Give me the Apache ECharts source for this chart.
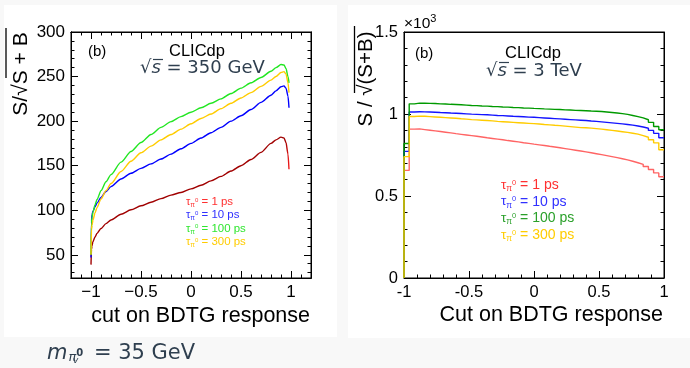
<!DOCTYPE html>
<html><head><meta charset="utf-8">
<script src="https://cdn.jsdelivr.net/npm/echarts@6/dist/echarts.min.js"></script>
<style>html,body{margin:0;padding:0;background:#f8f8f8}#c{width:690px;height:368px}</style>
</head><body><div id="c"></div>
<script>
// ---------- Left panel (sqrt(s) = 350 GeV): smooth curves ----------
const cutL = [-1, -0.995, -0.99, -0.98, -0.96, -0.94, -0.9, -0.85, -0.8, -0.7, -0.6, -0.5, -0.4, -0.3, -0.2, -0.1, 0, 0.1, 0.2, 0.3, 0.4, 0.5, 0.6, 0.7, 0.8, 0.85, 0.9, 0.93, 0.95, 0.97, 0.98];
const tau1L   = [39, 56, 60, 65, 70, 74, 79.5, 85, 89, 95.5, 100.5, 105, 109, 113, 117, 120, 124, 128, 133, 138, 144, 150, 157, 165, 175, 179, 182, 181, 176, 163, 146];
const tau10L  = [47, 88, 95, 99, 104, 108, 114.5, 121, 126.5, 135, 141.5, 147, 152, 157.5, 163, 169, 175, 181, 187, 193, 200, 206, 213, 221, 229, 234, 238.5, 239.5, 237, 228, 215];
const tau100L = [50, 86, 92, 98, 106, 112, 122, 132, 140, 154, 166, 176, 185, 193, 199.5, 205, 210, 215, 220, 225, 231, 237, 243, 249, 256, 260, 263.5, 263, 259, 250, 243];
const tau300L = [50, 79, 83, 89, 97, 103, 112.5, 122, 130, 143.5, 155, 164.5, 172, 179, 185, 191, 197, 203, 208, 214, 220, 226, 232, 239, 246, 250, 254.5, 255.5, 253, 243, 232];
const leftXMajor = [-1, -0.5, 0, 0.5, 1];
const leftXMinor = [-1.1, -0.9, -0.8, -0.7, -0.6, -0.4, -0.3, -0.2, -0.1, 0.1, 0.2, 0.3, 0.4, 0.6, 0.7, 0.8, 0.9, 1.1];
const leftYMajor = [50, 100, 150, 200, 250, 300];
const leftYMinor = [30, 40, 60, 70, 80, 90, 110, 120, 130, 140, 160, 170, 180, 190, 210, 220, 230, 240, 260, 270, 280, 290];

// ---------- Right panel (sqrt(s) = 3 TeV): histograms, 50 bins, units of 10^3 ----------
const binEdges = [-1, -0.96, -0.92, -0.88, -0.84, -0.8, -0.76, -0.72, -0.68, -0.64, -0.6, -0.56, -0.52, -0.48, -0.44, -0.4, -0.36, -0.32, -0.28, -0.24, -0.2, -0.16, -0.12, -0.08, -0.04, 0, 0.04, 0.08, 0.12, 0.16, 0.2, 0.24, 0.28, 0.32, 0.36, 0.4, 0.44, 0.48, 0.52, 0.56, 0.6, 0.64, 0.68, 0.72, 0.76, 0.8, 0.84, 0.88, 0.92, 0.96, 1];
const tau1R = [0.656, 0.908, 0.909, 0.905, 0.901, 0.897, 0.893, 0.889, 0.885, 0.880, 0.876, 0.872, 0.868, 0.864, 0.860, 0.855, 0.851, 0.847, 0.843, 0.838, 0.834, 0.830, 0.825, 0.821, 0.816, 0.812, 0.808, 0.803, 0.799, 0.794, 0.789, 0.784, 0.779, 0.774, 0.769, 0.764, 0.758, 0.752, 0.746, 0.740, 0.734, 0.727, 0.720, 0.712, 0.703, 0.693, 0.680, 0.662, 0.641, 0.617];
const tau10R = [0.772, 1.012, 1.014, 1.013, 1.012, 1.011, 1.009, 1.008, 1.006, 1.005, 1.003, 1.001, 0.999, 0.998, 0.996, 0.995, 0.993, 0.991, 0.990, 0.988, 0.986, 0.985, 0.983, 0.981, 0.980, 0.978, 0.976, 0.974, 0.972, 0.970, 0.968, 0.966, 0.964, 0.962, 0.960, 0.957, 0.955, 0.952, 0.949, 0.946, 0.943, 0.940, 0.936, 0.932, 0.927, 0.921, 0.913, 0.900, 0.882, 0.855];
const tau100R = [0.820, 1.062, 1.066, 1.066, 1.065, 1.064, 1.062, 1.061, 1.059, 1.058, 1.056, 1.054, 1.052, 1.051, 1.049, 1.048, 1.046, 1.045, 1.043, 1.042, 1.040, 1.039, 1.037, 1.036, 1.034, 1.033, 1.031, 1.030, 1.028, 1.027, 1.025, 1.024, 1.022, 1.021, 1.020, 1.018, 1.017, 1.015, 1.012, 1.009, 1.006, 1.002, 0.998, 0.991, 0.984, 0.976, 0.965, 0.949, 0.924, 0.904];
const tau300R = [0.740, 0.985, 0.987, 0.986, 0.984, 0.982, 0.980, 0.978, 0.976, 0.974, 0.971, 0.969, 0.966, 0.964, 0.962, 0.960, 0.958, 0.955, 0.953, 0.951, 0.949, 0.947, 0.945, 0.943, 0.941, 0.939, 0.936, 0.934, 0.931, 0.929, 0.926, 0.923, 0.920, 0.917, 0.916, 0.914, 0.911, 0.908, 0.904, 0.900, 0.896, 0.892, 0.888, 0.883, 0.877, 0.868, 0.858, 0.843, 0.824, 0.782];

const legendLabels = ['1 ps', '10 ps', '100 ps', '300 ps'];
const leftColors = ['#a00000', '#0000ff', '#22e622', '#ffcc00'];
const rightColors = ['#ff6464', '#1414ff', '#009a00', '#ffcc00'];
const leftLegendColors = ['#ff3030', '#3030ff', '#30e630', '#ffcc00'];
const rightLegendColors = ['#ff3030', '#3030ff', '#2aa02a', '#ffcc00'];

const FONT = 'Liberation Sans';
const chart = echarts.init(document.getElementById('c'));

function pairs(xs, ys) { return xs.map((x, i) => [x, ys[i]]); }
function hist(vals) {
  const d = [[binEdges[0], 0]];
  vals.forEach((v, i) => d.push([binEdges[i], v]));
  d.push([binEdges[binEdges.length - 1], vals[vals.length - 1]]);
  return d;
}
function fmtMinus(v) { return v === 0 ? '0' : String(v).replace('-', '\u2212'); }

function ax(gridIndex, pos, min, max, opts) {
  return Object.assign({
    type: 'value', gridIndex, position: pos, min, max,
    axisLine: { show: true, onZero: false, lineStyle: { color: '#000', width: 1 } },
    splitLine: { show: false },
    axisLabel: { show: false },
    axisTick: { show: false }
  }, opts);
}
function ticks(len, values) { return { show: true, inside: true, length: len, customValues: values, lineStyle: { color: '#000', width: 1 } }; }

const xAxes = [
  ax(0, 'bottom', -1.2, 1.2, { axisTick: ticks(7, leftXMajor), axisLabel: { show: true, customValues: leftXMajor, formatter: fmtMinus, fontSize: 17, fontFamily: FONT, color: '#000', margin: 6 } }),
  ax(0, 'bottom', -1.2, 1.2, { axisTick: ticks(3.5, leftXMinor) }),
  ax(0, 'top', -1.2, 1.2, { axisTick: ticks(7, leftXMajor) }),
  ax(0, 'top', -1.2, 1.2, { axisTick: ticks(3.5, leftXMinor) }),
  ax(1, 'bottom', -1, 1, { interval: 0.5, axisTick: { show: true, inside: true, length: 7, lineStyle: { color: '#000' } }, minorTick: { show: true, splitNumber: 5, length: 3.5, lineStyle: { color: '#000' } }, axisLabel: { show: true, fontSize: 16.5, fontFamily: FONT, color: '#000', margin: 6 } }),
  ax(1, 'top', -1, 1, {})
];
const yAxes = [
  ax(0, 'left', 24, 300, { axisTick: ticks(7, leftYMajor), axisLabel: { show: true, customValues: leftYMajor, fontSize: 17, fontFamily: FONT, color: '#000', margin: 6 } }),
  ax(0, 'left', 24, 300, { axisTick: ticks(3.5, leftYMinor) }),
  ax(0, 'right', 24, 300, { axisTick: ticks(7, leftYMajor) }),
  ax(0, 'right', 24, 300, { axisTick: ticks(3.5, leftYMinor) }),
  ax(1, 'left', 0, 1.5, { interval: 0.5, axisTick: { show: true, inside: true, length: 7, lineStyle: { color: '#000' } }, minorTick: { show: true, splitNumber: 5, length: 3.5, lineStyle: { color: '#000' } }, axisLabel: { show: true, fontSize: 16.5, fontFamily: FONT, color: '#000', margin: 6 } }),
  ax(1, 'right', 0, 1.5, { interval: 0.5, axisTick: { show: true, inside: true, length: 7, lineStyle: { color: '#000' } }, minorTick: { show: true, splitNumber: 5, length: 3.5, lineStyle: { color: '#000' } } })
];

const leftData = [tau1L, tau10L, tau100L, tau300L];
const rightData = [tau1R, tau10R, tau100R, tau300R];
const series = [];
leftData.forEach((ys, i) => {
  let color = leftColors[i];
  if (i === 0) {
    color = new echarts.graphic.LinearGradient(0, 0, 1, 0, [
      { offset: 0, color: '#a00000' }, { offset: 0.972, color: '#a00000' },
      { offset: 0.99, color: '#ff2020' }, { offset: 1, color: '#ff2020' }]);
  }
  series.push({ type: 'line', xAxisIndex: 0, yAxisIndex: 0, data: pairs(cutL, ys), showSymbol: false,
    smooth: 0.25, smoothMonotone: 'x', lineStyle: { color, width: 1.4 }, itemStyle: { color: leftColors[i] }, z: 3 });
});
rightData.forEach((vals, i) => {
  series.push({ type: 'line', xAxisIndex: 4, yAxisIndex: 4, data: hist(vals), showSymbol: false,
    step: 'end', lineStyle: { color: rightColors[i], width: 1.4 }, itemStyle: { color: rightColors[i] }, z: 3 });
});

function legendText(x, y, label, color, fs) {
  return { type: 'text', x, y, z: 10, style: {
    text: '{t|τ}{s|π}{r|0}{e| = ' + label + '}', fill: color, verticalAlign: 'middle',
    rich: {
      t: { fontSize: fs, fontFamily: FONT, fill: color },
      s: { fontSize: fs * 0.62, fontFamily: FONT, fill: color, padding: [fs * 0.55, 0, 0, 0] },
      r: { fontSize: fs * 0.55, fontFamily: FONT, fill: color, padding: [0, 0, fs * 0.35, 0] },
      e: { fontSize: fs * 1.04, fontFamily: FONT, fill: color }
    } } };
}

const mathColor = '#2f3f4f';
const MF = 'DejaVu Sans';
const graphics = [
  { type: 'rect', z: -10, shape: { x: 4, y: 5, width: 333, height: 332 }, style: { fill: '#fff' } },
  { type: 'rect', z: -10, shape: { x: 348, y: 5, width: 342, height: 333 }, style: { fill: '#fff' } },
  // left y title
  { type: 'text', x: 21, y: 74, rotation: Math.PI / 2, z: 10, style: { text: 'S/√S + B', font: '21px "Liberation Sans"', fill: '#000', align: 'center', verticalAlign: 'middle' } },
  { type: 'line', z: 10, shape: { x1: 6, y1: 28, x2: 6, y2: 78 }, style: { stroke: '#000', lineWidth: 1.3 } },
  { type: 'text', x: 310, y: 316, z: 10, style: { text: 'cut on BDTG response', font: '21.5px "Liberation Sans"', fill: '#000', align: 'right', verticalAlign: 'middle' } },
  // right y title
  { type: 'text', x: 366, y: 79, rotation: Math.PI / 2, z: 10, style: { text: 'S / √(S+B)', font: '20.5px "Liberation Sans"', fill: '#000', align: 'center', verticalAlign: 'middle' } },
  { type: 'line', z: 10, shape: { x1: 354.5, y1: 26, x2: 354.5, y2: 93 }, style: { stroke: '#000', lineWidth: 1.3 } },
  { type: 'text', x: 404, y: 24, z: 10, style: { text: '{a|×10}{b|3}', verticalAlign: 'middle', rich: { a: { fontSize: 15.5, fontFamily: FONT, fill: '#000' }, b: { fontSize: 11, fontFamily: FONT, fill: '#000', padding: [0, 0, 11, 0] } } } },
  { type: 'text', x: 663, y: 315, z: 10, style: { text: 'Cut on BDTG response', font: '21.5px "Liberation Sans"', fill: '#000', align: 'right', verticalAlign: 'middle' } },
  // annotations
  { type: 'text', x: 88, y: 52, z: 10, style: { text: '(b)', font: '15px "Liberation Sans"', fill: '#000', verticalAlign: 'middle' } },
  { type: 'text', x: 415, y: 54, z: 10, style: { text: '(b)', font: '15px "Liberation Sans"', fill: '#000', verticalAlign: 'middle' } },
  { type: 'text', x: 197, y: 51, z: 10, style: { text: 'CLICdp', font: '16.5px "Liberation Sans"', fill: '#000', align: 'center', verticalAlign: 'middle' } },
  { type: 'text', x: 533, y: 53, z: 10, style: { text: 'CLICdp', font: '16.5px "Liberation Sans"', fill: '#000', align: 'center', verticalAlign: 'middle' } },
  { type: 'text', x: 140, y: 68, z: 10, style: { text: '{a|√}{b|s}{c| = 350 GeV}', verticalAlign: 'middle', rich: { a: { fontSize: 18, fontFamily: MF, fill: mathColor }, b: { fontSize: 18, fontFamily: MF, fontStyle: 'italic', fill: mathColor }, c: { fontSize: 18, fontFamily: MF, fill: mathColor } } } },
  { type: 'line', z: 10, shape: { x1: 153, y1: 59.5, x2: 163, y2: 59.5 }, style: { stroke: mathColor, lineWidth: 1.2 } },
  { type: 'text', x: 486, y: 71, z: 10, style: { text: '{a|√}{b|s}{c| = 3 TeV}', verticalAlign: 'middle', rich: { a: { fontSize: 18, fontFamily: MF, fill: mathColor }, b: { fontSize: 18, fontFamily: MF, fontStyle: 'italic', fill: mathColor }, c: { fontSize: 18, fontFamily: MF, fill: mathColor } } } },
  { type: 'line', z: 10, shape: { x1: 499, y1: 62.5, x2: 509, y2: 62.5 }, style: { stroke: mathColor, lineWidth: 1.2 } },
  // bottom caption
  { type: 'text', x: 47, y: 354, z: 10, style: { text: '{m|m}{p|π}{z|0}{e| = 35 GeV}', verticalAlign: 'middle', rich: {
    m: { fontSize: 21, fontFamily: MF, fontStyle: 'italic', fill: mathColor },
    p: { fontSize: 13, fontFamily: MF, fontStyle: 'italic', fill: mathColor, padding: [8, 0, 0, 1] },
    z: { fontSize: 10, fontFamily: MF, fontWeight: 'bold', fill: mathColor, padding: [0, 4, 2, 0] },
    e: { fontSize: 21, fontFamily: MF, fill: mathColor } } } },
  { type: 'text', x: 73, y: 361, z: 10, style: { text: 'v', font: 'italic 9px "DejaVu Sans"', fill: mathColor, verticalAlign: 'middle' } }
];
legendLabels.forEach((lab, i) => {
  graphics.push(legendText(186, 202 + i * 13.3, lab, leftLegendColors[i], 11));
  graphics.push(legendText(501, 185 + i * 16.7, lab, rightLegendColors[i], 13.5));
});

chart.setOption({
  animation: false,
  backgroundColor: '#f8f8f8',
  grid: [
    { left: 71, top: 32, width: 240, height: 246, show: true, borderColor: '#000', borderWidth: 1, backgroundColor: '#fff' },
    { left: 404, top: 32, width: 260, height: 246, show: true, borderColor: '#000', borderWidth: 1, backgroundColor: '#fff' }
  ],
  xAxis: xAxes,
  yAxis: yAxes,
  series,
  graphic: graphics
});
</script></body></html>
